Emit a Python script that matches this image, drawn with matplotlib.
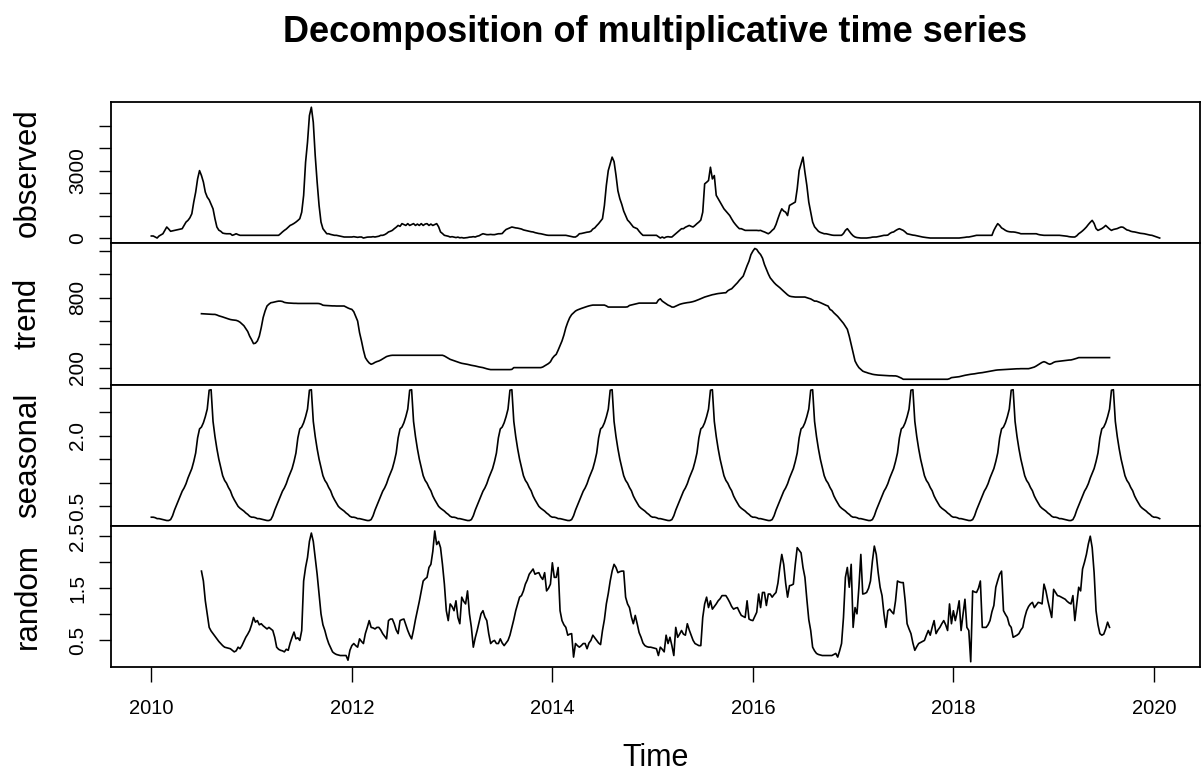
import numpy as np
import matplotlib
matplotlib.use("Agg")
import matplotlib.pyplot as plt

plt.rcParams['font.family'] = ['Liberation Sans', 'DejaVu Sans']

FREQ = 52
START = 2010

# weekly observed values, one list per year
obs_2010 = [90, 90, 45, 0, 90, 140, 190, 340,
            490, 400, 300, 320, 340, 360, 380, 400,
            415, 560, 710, 785, 900, 1080, 1600, 2040,
            2630, 3000, 2780, 2490, 2040, 1820, 1700, 1500,
            1300, 860, 490, 350, 300, 220, 200, 190,
            190, 190, 120, 150, 190, 150, 120, 120,
            120, 120, 120, 120]
obs_2011 = [120, 120, 120, 120, 120, 120, 120, 120,
            120, 120, 120, 120, 120, 120, 120, 190,
            270, 340, 400, 480, 560, 600, 650, 710,
            780, 860, 1150, 1900, 3370, 4260, 5450, 5820,
            5150, 3670, 2490, 1450, 710, 415, 300, 190,
            190, 160, 140, 120, 120, 100, 80, 60,
            45, 45, 45, 45]
obs_2012 = [45, 60, 45, 30, 45, 45, 0, 20,
            40, 45, 45, 60, 45, 60, 80, 120,
            120, 150, 200, 270, 300, 340, 415, 480,
            560, 520, 640, 600, 560, 640, 560, 600,
            640, 560, 620, 560, 640, 560, 620, 640,
            560, 620, 560, 600, 640, 500, 270, 200,
            120, 100, 80, 45]
obs_2013 = [60, 40, 20, 40, 10, 20, 0, 10,
            20, 40, 45, 60, 45, 80, 100, 150,
            190, 170, 150, 150, 160, 150, 150, 170,
            190, 190, 200, 300, 380, 415, 450, 490,
            470, 450, 440, 420, 400, 360, 340, 320,
            300, 280, 270, 240, 220, 200, 190, 170,
            150, 130, 120, 120]
obs_2014 = [120, 120, 120, 120, 120, 120, 120, 120,
            100, 80, 60, 45, 45, 100, 190, 200,
            220, 240, 260, 270, 300, 400, 450, 550,
            640, 750, 860, 1450, 2340, 3000, 3300, 3600,
            3400, 2800, 2100, 1750, 1500, 1200, 1000, 800,
            710, 600, 490, 450, 415, 300, 200, 120,
            120, 120, 120, 120]
obs_2015 = [120, 120, 120, 60, 0, 45, 0, 45,
            60, 45, 45, 120, 190, 270, 340, 415,
            415, 480, 520, 560, 520, 490, 560, 640,
            710, 800, 1150, 2410, 2480, 2560, 3150, 2630,
            2780, 1900, 1750, 1600, 1450, 1300, 1200, 1100,
            1000, 850, 710, 600, 500, 415, 415, 380,
            340, 340, 340, 340]
obs_2016 = [340, 340, 340, 330, 340, 300, 270, 230,
            190, 250, 340, 415, 600, 860, 1100, 1300,
            1200, 1150, 1000, 1450, 1500, 1550, 1600, 2190,
            3000, 3300, 3600, 2930, 2340, 1600, 1150, 710,
            500, 400, 300, 250, 220, 190, 190, 170,
            150, 130, 120, 120, 120, 120, 120, 200,
            340, 415, 300, 190]
obs_2017 = [100, 45, 20, 10, 0, 0, 0, 0,
            10, 20, 40, 45, 45, 60, 80, 100,
            120, 120, 130, 200, 250, 270, 330, 380,
            415, 380, 340, 270, 190, 170, 150, 130,
            120, 100, 80, 60, 45, 30, 20, 10,
            0, 0, 0, 0, 0, 0, 0, 0,
            0, 0, 0, 0]
obs_2018 = [0, 0, 0, 0, 10, 20, 30, 45,
            45, 60, 80, 100, 120, 120, 120, 120,
            120, 120, 120, 120, 120, 340, 500, 640,
            560, 450, 400, 340, 300, 280, 270, 270,
            260, 240, 220, 190, 190, 190, 190, 190,
            190, 190, 190, 190, 160, 140, 130, 120,
            120, 120, 120, 120]
obs_2019 = [120, 120, 120, 120, 110, 100, 90, 80,
            60, 50, 45, 45, 100, 190, 250, 320,
            400, 490, 600, 700, 785, 650, 420, 340,
            380, 420, 480, 560, 480, 400, 340, 380,
            400, 420, 460, 490, 480, 420, 360, 340,
            300, 280, 270, 250, 230, 210, 200, 190,
            170, 150, 130, 120]
obs_2020 = [90, 60, 30, 0]

# seasonal factor for each week of the year
seasonal_week = [0.27, 0.27, 0.26, 0.24, 0.24, 0.23, 0.22, 0.21, 0.20, 0.20,
                 0.22, 0.30, 0.42, 0.52, 0.62, 0.72, 0.82, 0.89, 0.98, 1.10,
                 1.20, 1.30, 1.45, 1.63, 1.95, 2.14, 2.18, 2.27, 2.40, 2.56,
                 2.96, 2.97, 2.30, 1.98, 1.72, 1.50, 1.32, 1.15, 1.05, 0.99,
                 0.90, 0.83, 0.72, 0.64, 0.57, 0.50, 0.46, 0.43, 0.40, 0.36,
                 0.33, 0.29]

# moving-average trend, defined from week 26 to week 497
trend_vals = [663, 662, 661, 660, 659, 658, 657, 657,
              652, 645, 640, 635, 629, 624, 618, 613,
              610, 608, 606, 600, 590, 575, 560, 535,
              510, 470, 440, 406, 410, 429, 470, 543,
              630, 686, 729, 745, 757, 760, 764, 768,
              771, 771, 768, 760, 757, 755, 754, 753,
              752, 752, 751, 751, 751, 751, 751, 751,
              751, 751, 751, 751, 751, 750, 745, 736,
              734, 733, 732, 731, 730, 730, 729, 729,
              729, 729, 729, 720, 712, 705, 700, 680,
              640, 600, 500, 429, 350, 286, 260, 240,
              229, 235, 245, 252, 257, 265, 275, 285,
              295, 300, 304, 306, 306, 306, 306, 306,
              306, 306, 306, 306, 306, 306, 306, 306,
              306, 306, 306, 306, 306, 306, 306, 306,
              306, 306, 306, 306, 306, 306, 300, 290,
              280, 271, 265, 258, 252, 247, 242, 237,
              234, 231, 228, 224, 220, 217, 214, 210,
              206, 203, 200, 195, 190, 186, 183, 183,
              183, 183, 183, 183, 183, 183, 183, 183,
              183, 185, 200, 200, 200, 200, 200, 200,
              200, 200, 200, 200, 200, 200, 200, 200,
              200, 205, 215, 225, 235, 250, 280, 300,
              314, 350, 390, 429, 480, 543, 590, 629,
              655, 670, 686, 695, 702, 708, 714, 720,
              725, 730, 734, 737, 737, 737, 737, 737,
              737, 737, 730, 720, 720, 720, 720, 720,
              720, 720, 720, 720, 720, 722, 734, 738,
              742, 746, 750, 754, 754, 754, 754, 754,
              754, 754, 754, 754, 754, 780, 791, 771,
              760, 750, 737, 730, 720, 720, 728, 735,
              743, 748, 752, 755, 758, 760, 763, 767,
              772, 778, 785, 792, 800, 806, 811, 816,
              821, 826, 829, 833, 836, 838, 840, 842,
              843, 860, 870, 877, 895, 912, 929, 950,
              968, 986, 1030, 1075, 1114, 1170, 1200, 1223,
              1215, 1190, 1171, 1140, 1086, 1045, 1005, 971,
              950, 930, 913, 900, 886, 870, 855, 840,
              825, 814, 810, 808, 806, 806, 806, 806,
              806, 806, 800, 795, 790, 780, 771, 771,
              765, 758, 750, 742, 735, 729, 700, 690,
              671, 655, 640, 620, 600, 580, 555, 529,
              470, 400, 330, 257, 225, 200, 185, 170,
              163, 158, 152, 148, 143, 140, 138, 136,
              135, 134, 133, 132, 131, 130, 130, 129,
              129, 125, 118, 110, 100, 100, 100, 100,
              100, 100, 100, 100, 100, 100, 100, 100,
              100, 100, 100, 100, 100, 100, 100, 100,
              100, 100, 100, 100, 105, 114, 116, 118,
              120, 122, 126, 130, 134, 137, 140, 143,
              145, 147, 150, 153, 155, 157, 160, 163,
              166, 169, 172, 175, 178, 180, 181, 182,
              183, 184, 185, 186, 187, 188, 189, 190,
              190, 191, 191, 191, 191, 191, 195, 200,
              205, 214, 225, 235, 245, 251, 245, 235,
              229, 235, 245, 251, 253, 255, 257, 259,
              261, 263, 265, 266, 270, 275, 280, 286,
              286, 286, 286, 286, 286, 286, 286, 286,
              286, 286, 286, 286, 286, 286, 286, 286]

# remainder, same weeks as the trend
random_vals = [1.83, 1.64, 1.26, 1.01, 0.75, 0.68, 0.63, 0.58,
               0.53, 0.48, 0.44, 0.40, 0.37, 0.36, 0.35, 0.34,
               0.31, 0.28, 0.30, 0.37, 0.34, 0.40, 0.48, 0.56,
               0.62, 0.69, 0.80, 0.94, 0.85, 0.88, 0.80, 0.82,
               0.78, 0.75, 0.72, 0.75, 0.72, 0.69, 0.56, 0.37,
               0.33, 0.31, 0.30, 0.28, 0.33, 0.31, 0.45, 0.56,
               0.66, 0.53, 0.55, 0.50, 0.69, 1.64, 1.90, 2.09,
               2.40, 2.56, 2.40, 2.09, 1.77, 1.39, 1.01, 0.80,
               0.69, 0.55, 0.44, 0.36, 0.28, 0.25, 0.23, 0.22,
               0.21, 0.21, 0.21, 0.21, 0.12, 0.31, 0.40, 0.44,
               0.40, 0.37, 0.53, 0.48, 0.44, 0.63, 0.75, 0.88,
               0.75, 0.74, 0.72, 0.75, 0.75, 0.70, 0.63, 0.58,
               0.53, 0.88, 0.91, 0.91, 0.82, 0.70, 0.63, 0.88,
               0.90, 0.91, 0.80, 0.69, 0.60, 0.53, 0.70, 0.90,
               1.07, 1.25, 1.45, 1.64, 1.68, 1.71, 1.90, 1.96,
               2.21, 2.60, 2.34, 2.40, 2.28, 1.96, 1.58, 1.07,
               0.88, 1.20, 1.15, 1.07, 1.26, 0.94, 0.82, 1.33,
               1.25, 1.20, 1.45, 1.01, 0.75, 0.37, 0.55, 0.69,
               0.85, 1.01, 1.07, 0.95, 0.88, 0.63, 0.44, 0.48,
               0.50, 0.44, 0.44, 0.53, 0.45, 0.40, 0.45, 0.50,
               0.60, 0.75, 0.90, 1.07, 1.20, 1.33, 1.36, 1.45,
               1.58, 1.66, 1.77, 1.82, 1.87, 1.77, 1.79, 1.80,
               1.72, 1.67, 1.80, 1.45, 1.50, 1.58, 1.99, 1.71,
               1.71, 1.90, 1.07, 0.88, 0.80, 0.75, 0.60, 0.62,
               0.63, 0.18, 0.44, 0.40, 0.37, 0.40, 0.44, 0.44,
               0.34, 0.45, 0.50, 0.60, 0.55, 0.50, 0.45, 0.42,
               0.69, 0.90, 1.20, 1.40, 1.64, 1.83, 1.96, 1.90,
               1.80, 1.82, 1.83, 1.83, 1.33, 1.20, 1.13, 0.95,
               0.82, 0.98, 0.82, 0.65, 0.56, 0.45, 0.40, 0.38,
               0.37, 0.37, 0.36, 0.35, 0.34, 0.21, 0.37, 0.33,
               0.28, 0.60, 0.44, 0.56, 0.40, 0.21, 0.75, 0.56,
               0.62, 0.69, 0.62, 0.60, 0.82, 0.70, 0.60, 0.50,
               0.44, 0.42, 0.40, 0.40, 0.94, 1.20, 1.33, 1.13,
               1.26, 1.10, 1.15, 1.20, 1.26, 1.30, 1.36, 1.36,
               1.36, 1.30, 1.23, 1.15, 1.10, 1.12, 1.13, 1.05,
               0.98, 0.96, 0.94, 1.26, 0.91, 0.89, 0.88, 0.96,
               1.04, 1.39, 1.13, 1.42, 1.42, 1.17, 1.39, 1.39,
               1.33, 1.38, 1.42, 1.60, 1.90, 2.15, 1.96, 1.60,
               1.33, 1.55, 1.56, 1.58, 1.96, 2.28, 2.23, 2.18,
               1.90, 1.71, 1.29, 0.90, 0.69, 0.37, 0.30, 0.25,
               0.23, 0.22, 0.21, 0.21, 0.21, 0.21, 0.21, 0.21,
               0.23, 0.25, 0.18, 0.30, 0.44, 0.94, 1.71, 1.90,
               1.52, 1.96, 0.75, 1.13, 1.01, 1.52, 2.15, 1.39,
               1.40, 1.42, 1.50, 1.64, 2.02, 2.31, 2.15, 1.80,
               1.52, 1.36, 1.01, 0.75, 1.07, 1.10, 1.05, 1.01,
               1.26, 1.64, 1.62, 1.61, 1.61, 1.26, 0.82, 0.72,
               0.63, 0.45, 0.31, 0.38, 0.44, 0.46, 0.48, 0.50,
               0.60, 0.69, 0.60, 0.75, 0.88, 0.63, 0.70, 0.75,
               0.82, 0.88, 0.80, 0.69, 1.20, 0.82, 1.07, 0.88,
               1.05, 1.26, 0.69, 1.00, 1.29, 0.75, 0.69, 0.09,
               1.45, 1.43, 1.42, 1.50, 1.64, 0.75, 0.75, 0.75,
               0.80, 0.88, 1.05, 1.17, 1.52, 1.65, 1.77, 1.83,
               1.07, 1.00, 0.94, 0.80, 0.75, 0.56, 0.58, 0.60,
               0.63, 0.70, 0.75, 0.94, 1.07, 1.15, 1.20, 1.23,
               1.13, 1.18, 1.23, 1.22, 1.20, 1.58, 1.45, 1.26,
               1.10, 0.94, 1.48, 1.42, 1.36, 1.35, 1.33, 1.31,
               1.29, 1.25, 1.22, 1.20, 1.36, 0.88, 1.20, 1.52,
               1.45, 1.87, 2.00, 2.15, 2.35, 2.50, 2.28, 1.80,
               1.07, 0.80, 0.63, 0.60, 0.62, 0.72, 0.85, 0.75]

panel_names = ['observed', 'trend', 'seasonal', 'random']
x_ticks = [2010, 2012, 2014, 2016, 2018, 2020]

observed = np.array(obs_2010 + obs_2011 + obs_2012 + obs_2013 + obs_2014 + obs_2015
                    + obs_2016 + obs_2017 + obs_2018 + obs_2019 + obs_2020, dtype=float)
n = len(observed)
t = START + np.arange(n) / FREQ

seasonal = np.resize(np.array(seasonal_week), n)
trend = np.full(n, np.nan)
trend[26:26 + len(trend_vals)] = trend_vals
remainder = np.full(n, np.nan)
remainder[26:26 + len(random_vals)] = random_vals

series = [observed, trend, seasonal, remainder]
yticks = [
    ([0, 1000, 2000, 3000, 4000, 5000], ['0', '', '', '3000', '', '']),
    ([200, 400, 600, 800, 1000, 1200], ['200', '', '', '800', '', '']),
    ([0.5, 1.0, 1.5, 2.0, 2.5, 3.0], ['0.5', '', '', '2.0', '', '']),
    ([0.5, 1.0, 1.5, 2.0, 2.5], ['0.5', '', '1.5', '', '2.5']),
]

W, H = 1202, 776
fig = plt.figure(figsize=(W / 100, H / 100), dpi=100)

left, right, top, bottom = 111, 1200, 102, 667
ph = (bottom - top) / 4
pad = 0.04 * (t[-1] - t[0])

for i, (name, y) in enumerate(zip(panel_names, series)):
    ax = fig.add_axes([left / W, (H - top - ph * (i + 1)) / H, (right - left) / W, ph / H])
    ax.plot(t, y, color='black', lw=1.2)
    ax.set_xlim(t[0] - pad, t[-1] + pad)
    ax.margins(y=0.04)
    ticks, labels = yticks[i]
    ax.set_yticks(ticks, labels)
    ax.tick_params(axis='y', direction='out', length=9, width=1, labelsize=15, pad=8)
    for lab in ax.get_yticklabels():
        lab.set_rotation(90)
        lab.set_va('center')
    # panel name sits left of the tick labels, centred on the panel
    fig.text(28 / W, (H - top - ph * (i + 0.5)) / H, name, rotation=90,
             ha='center', va='center', fontsize=22.5)
    for sp in ax.spines.values():
        sp.set_linewidth(1.3)
    if i < 3:
        ax.set_xticks([])
    else:
        ax.set_xticks(x_ticks, [str(v) for v in x_ticks])
        ax.tick_params(axis='x', direction='out', length=11, width=1, labelsize=14.5, pad=12)

fig.text((left + right) / 2 / W, 1 - 33 / H, 'Decomposition of multiplicative time series',
         ha='center', va='center', fontsize=26, fontweight='bold')
fig.text((left + right) / 2 / W, 1 - 758 / H, 'Time', ha='center', va='center', fontsize=22)

fig.savefig('out.png', dpi=100)
